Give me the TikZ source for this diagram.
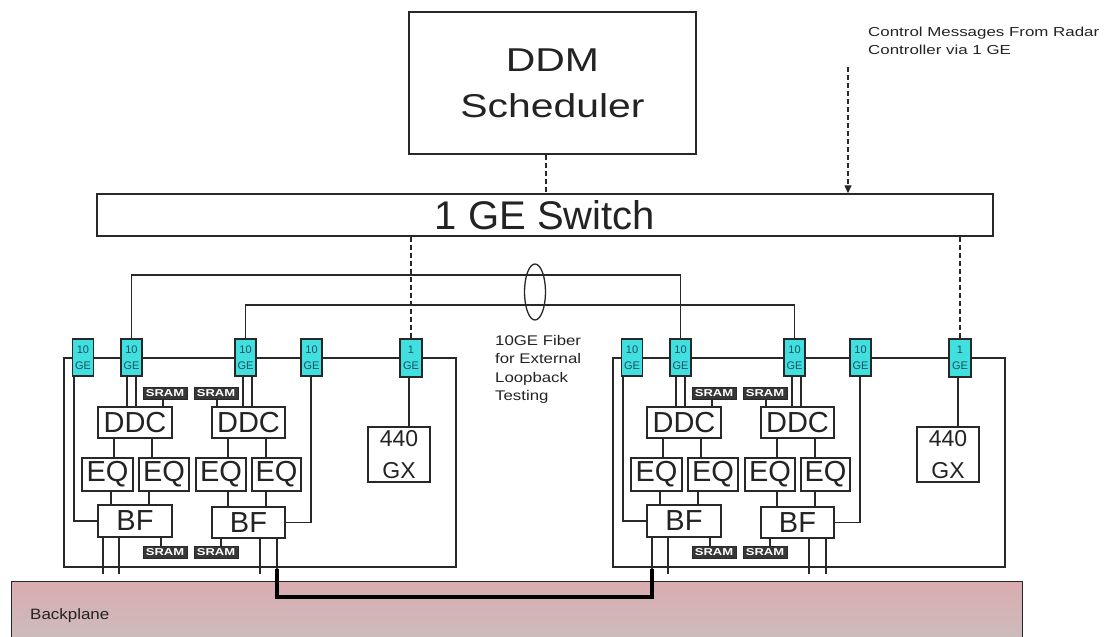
\documentclass[tikz,border=0pt]{standalone}
\usepackage{fontspec}
\setmainfont{Liberation Sans}
\newfontfamily\fddm[FakeStretch=1.24]{Liberation Sans}
\newfontfamily\fctl[FakeStretch=1.3]{Liberation Sans}
\newfontfamily\ffib[FakeStretch=1.2]{Liberation Sans}
\newfontfamily\fbp[FakeStretch=1.13]{Liberation Sans}
\newfontfamily\fsram[FakeStretch=1.3]{Liberation Sans}
\usetikzlibrary{shapes.geometric,arrows.meta}
\definecolor{linec}{RGB}{40,40,40}
\definecolor{cyanc}{RGB}{64,224,224}
\definecolor{getext}{RGB}{30,80,90}
\definecolor{sramc}{RGB}{55,55,55}
\definecolor{bptop}{RGB}{218,172,176}
\definecolor{bpbot}{RGB}{204,188,188}
\definecolor{txt}{RGB}{35,35,35}
\tikzset{
 ln/.style={draw=linec, line width=1.6pt},
 bx/.style={draw=linec, line width=1.4pt, fill=white, inner sep=0pt, text=txt},
 bigbox/.style={bx, font=\fontsize{29}{30}\selectfont},
 gebox/.style={bx, fill=cyanc, text=getext, align=center, minimum width=21, minimum height=37, font=\fontsize{11}{16}\selectfont},
 srambox/.style={draw=linec, line width=0.8pt, fill=sramc, text=white, inner sep=0pt, minimum width=44, minimum height=12, font=\fsram\bfseries\fontsize{10}{10}\selectfont},
 boardbox/.style={draw=linec, line width=1.4pt, inner sep=0pt, minimum width=392, minimum height=209},
 dsh/.style={draw=linec, line width=1.3pt, dash pattern=on 5pt off 3pt},
 thk/.style={draw=black, line width=3.5pt},
}
\begin{document}
\begin{tikzpicture}[x=1pt,y=-1pt]
\useasboundingbox (0,0) rectangle (1104,637);
% backplane
\fill[top color=bptop, bottom color=bpbot] (11,581) rectangle (1022,640);
\draw[linec, line width=1pt] (11,640) -- (11,581) -- (1022,581) -- (1022,640);
\node[anchor=west, inner sep=0pt, text=txt, font=\fbp\fontsize{15}{15}\selectfont] (bplabel) at (30,616) {Backplane};

% top
\node[bx, minimum width=287, minimum height=142, align=center, font=\fddm\fontsize{33}{46}\selectfont] (ddm) at (552.5,83) {DDM\\Scheduler};
\node[bx, minimum width=896, minimum height=42, font=\fontsize{40}{40}\selectfont] (sw) at (545,215) {1 GE Switch};
\node[anchor=north west, inner sep=0pt, align=left, text=txt, font=\fctl\fontsize{13}{18}\selectfont] (ctl) at (868,27) {Control Messages From Radar\\Controller via 1 GE};
\coordinate (ctlsrc) at (848,67);
\draw[dsh, -{Triangle[length=8pt,width=7pt]}] (ctlsrc) -- (ctlsrc |- sw.north);
\draw[dsh] (ddm.south -| 546,0) -- (sw.north -| 546,0);

% boards
\foreach \s/\d in {L/0,R/549} {
 \begin{scope}[xshift=\d]
  \node[boardbox] (board\s) at (260,462.5) {};
  \node[gebox] (gea\s) at (83,357.5) {10\\GE};
  \node[gebox] (geb\s) at (131.5,357.5) {10\\GE};
  \node[gebox] (gec\s) at (245.5,357.5) {10\\GE};
  \node[gebox] (ged\s) at (311.5,357.5) {10\\GE};
  \node[gebox, minimum width=22, minimum height=38] (gone\s) at (411,358) {1\\GE};
  \node[srambox] (st1\s) at (165,393) {SRAM};
  \node[srambox] (st2\s) at (216,393) {SRAM};
  \node[bigbox, minimum width=74, minimum height=31] (ddc1\s) at (135,422.5) {DDC};
  \node[bigbox, minimum width=73, minimum height=31] (ddc2\s) at (248.5,422.5) {DDC};
  \node[bigbox, minimum width=51, minimum height=33] (eq1\s) at (107.5,474.5) {EQ};
  \node[bigbox, minimum width=50, minimum height=33] (eq2\s) at (164,474.5) {EQ};
  \node[bigbox, minimum width=50, minimum height=33] (eq3\s) at (221,474.5) {EQ};
  \node[bigbox, minimum width=49, minimum height=33] (eq4\s) at (276.5,474.5) {EQ};
  \node[bigbox, minimum width=74, minimum height=32] (bf1\s) at (135,521) {BF};
  \node[bigbox, minimum width=73, minimum height=31] (bf2\s) at (248.5,522.5) {BF};
  \node[srambox] (sb1\s) at (165,552) {SRAM};
  \node[srambox] (sb2\s) at (216,552) {SRAM};
  \node[bx, minimum width=62, minimum height=55, align=center, font=\fontsize{23}{32}\selectfont] (gx\s) at (399,454.5) {440\\GX};
  \coordinate (bp\s) at (0,574);
  % connectors
  \draw[ln] (gea\s.south -| 74,0) |- (bf1\s.west);
  \draw[ln] (geb\s.south -| 127,0) -- (ddc1\s.north -| 127,0);
  \draw[ln] (geb\s.south -| 136,0) -- (ddc1\s.north -| 136,0);
  \draw[ln] (gec\s.south -| 243,0) -- (ddc2\s.north -| 243,0);
  \draw[ln] (gec\s.south -| 252,0) -- (ddc2\s.north -| 252,0);
  \draw[ln] (ged\s.south -| 311,0) |- (bf2\s.east);
  \draw[ln] (st1\s.south -| 163,0) -- (ddc1\s.north -| 163,0);
  \draw[ln] (st2\s.south -| 217,0) -- (ddc2\s.north -| 217,0);
  \draw[ln] (ddc1\s.south -| 114,0) -- (eq1\s.north -| 114,0);
  \draw[ln] (ddc1\s.south -| 152,0) -- (eq2\s.north -| 152,0);
  \draw[ln] (ddc2\s.south -| 228,0) -- (eq3\s.north -| 228,0);
  \draw[ln] (ddc2\s.south -| 266,0) -- (eq4\s.north -| 266,0);
  \draw[ln] (eq1\s.south -| 111,0) -- (bf1\s.north -| 111,0);
  \draw[ln] (eq2\s.south -| 149,0) -- (bf1\s.north -| 149,0);
  \draw[ln] (eq3\s.south -| 228,0) -- (bf2\s.north -| 228,0);
  \draw[ln] (eq4\s.south -| 266,0) -- (bf2\s.north -| 266,0);
  \draw[ln] (bf1\s.south -| 161,0) -- (sb1\s.north -| 161,0);
  \draw[ln] (bf2\s.south -| 221,0) -- (sb2\s.north -| 221,0);
  \draw[ln] (bf1\s.south -| 103,0) -- (bp\s -| 103,0);
  \draw[ln] (bf1\s.south -| 119,0) -- (bp\s -| 119,0);
  \draw[ln] (bf2\s.south -| 260,0) -- (bp\s -| 260,0);
  \draw[ln] (bf2\s.south -| 277,0) -- (bp\s -| 277,0);
  \draw[ln] (gone\s.south -| 409,0) -- (gx\s.north -| 409,0);
 \end{scope}
}

% dashed links from switch to 1GE ports
\draw[dsh] (sw.south -| goneL.north) -- (goneL.north);
\draw[dsh] (sw.south -| goneR.north) -- (goneR.north);

% 10GE fiber loopback
\coordinate (fib1) at (0,275);
\coordinate (fib2) at (0,305);
\draw[ln] (gebL.north) |- (fib1 -| gebR.north) -- (gebR.north);
\draw[ln] (gecL.north) |- (fib2 -| gecR.north) -- (gecR.north);
\node[draw=linec, line width=1.3pt, ellipse, minimum width=21, minimum height=56, inner sep=0pt] (fibring) at (535,292) {};
\node[anchor=north west, inner sep=0pt, align=left, text=txt, font=\ffib\fontsize{14}{18.4}\selectfont] (fibtxt) at (495,335) {10GE Fiber\\for External\\Loopback\\Testing};

% backplane link
\coordinate (tl) at (277,569);
\coordinate (tr) at (652,569);
\draw[thk] (tl) -- ++(0,28) -| (tr);
\end{tikzpicture}
\end{document}
